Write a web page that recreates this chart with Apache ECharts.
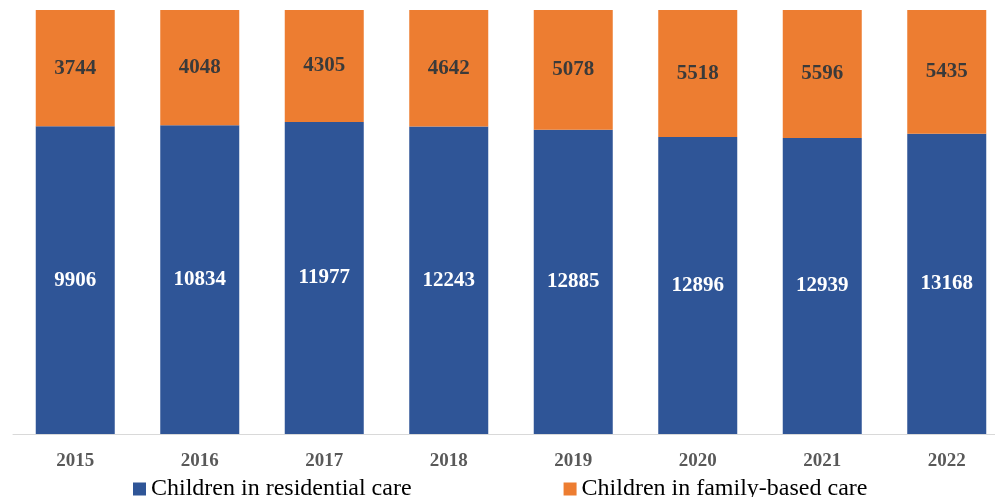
<!DOCTYPE html>
<html><head><meta charset="utf-8">
<script src="https://cdn.jsdelivr.net/npm/echarts@6/dist/echarts.min.js"></script>
<style>html,body{margin:0;padding:0;background:#fff;overflow:hidden;width:995px;height:497px}#c{width:1009px;height:497px}</style>
</head><body><div id="c"></div>
<script>
const years = ['2015','2016','2017','2018','2019','2020','2021','2022'];
const residential = [9906,10834,11977,12243,12885,12896,12939,13168];
const familyBased = [3744,4048,4305,4642,5078,5518,5596,5435];

const totals = years.map((_, i) => residential[i] + familyBased[i]);
const resPct = residential.map((v, i) => ({value: v / totals[i] * 100, raw: v}));
const famPct = familyBased.map((v, i) => ({value: v / totals[i] * 100, raw: v}));

const chart = echarts.init(document.getElementById('c'));
chart.setOption({
  animation: false,
  grid: {left: 13, right: 0, top: 10, bottom: 63},
  legend: {
    left: 128, top: 472, itemGap: 152, itemWidth: 13, itemHeight: 13,
    icon: 'rect',
    textStyle: {fontFamily: 'Liberation Serif', fontSize: 24, color: '#000'},
    data: ['Children in residential care', 'Children in family-based care']
  },
  xAxis: {
    type: 'category', data: years,
    axisLine: {lineStyle: {color: '#d9d9d9', width: 1}},
    axisTick: {show: false},
    axisLabel: {fontFamily: 'Liberation Serif', fontWeight: 'bold', fontSize: 19, color: '#595959', margin: 18}
  },
  yAxis: {type: 'value', min: 0, max: 100, show: false, splitLine: {show: false}},
  series: [
    {
      name: 'Children in residential care', type: 'bar', stack: 'all', barWidth: 79,
      data: resPct, itemStyle: {color: '#2F5597'},
      label: {show: true, position: 'inside', formatter: p => p.data.raw,
        fontFamily: 'Liberation Serif', fontWeight: 'bold', fontSize: 21, color: '#fff'}
    },
    {
      name: 'Children in family-based care', type: 'bar', stack: 'all', barWidth: 79,
      data: famPct, itemStyle: {color: '#ED7D31'},
      label: {show: true, position: 'inside', formatter: p => p.data.raw,
        fontFamily: 'Liberation Serif', fontWeight: 'bold', fontSize: 21, color: '#3a3a3a'}
    }
  ]
});
</script></body></html>
